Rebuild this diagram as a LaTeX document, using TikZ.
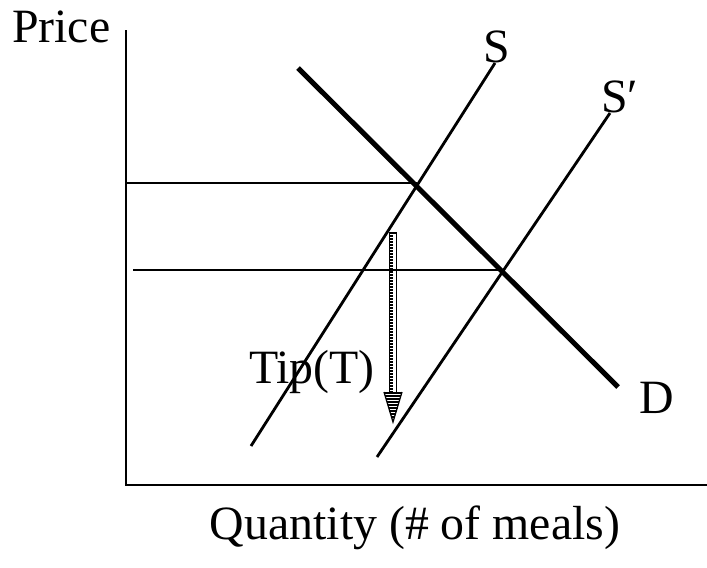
\documentclass[tikz,border=0pt]{standalone}
\usepackage{fontspec}
\setmainfont{Liberation Serif}

\begin{document}
\begin{tikzpicture}[x=0.025cm, y=-0.025cm, font=\fontsize{34}{38}\selectfont,
    axis/.style={line width=1.5pt},
    level/.style={line width=1.3pt},
    supply/.style={line width=2pt},
    demand/.style={line width=3.6pt},
    lbl/.style={inner sep=0pt, outer sep=0pt}]
  % Bounding box in pixel units of the reference (y runs down)
  \useasboundingbox (0,0) rectangle (707,567);

  % ---- AXES ----
  \coordinate (origin) at (126,485);
  \coordinate (ytop) at (126,30);
  \coordinate (xend) at (707,485);
  \draw[axis] (ytop) -- (origin) -- (xend);

  % ---- CURVES ----
  \coordinate (Dtop) at (298,68);
  \coordinate (Dbot) at (618,387);
  \coordinate (Sbot) at (251,446);
  \coordinate (Stop) at (495,63);
  \coordinate (SPbot) at (377,457);
  \coordinate (SPtop) at (610,113);
  \draw[demand] (Dtop) -- (Dbot);
  \draw[supply] (Sbot) -- (Stop);
  \draw[supply] (SPbot) -- (SPtop);

  % Equilibrium price levels
  \coordinate (eqS) at (417,183);
  \coordinate (eqSP) at (504,270);
  \draw[level] (126,183) coordinate (pS) -- (eqS);
  \draw[level] (133,270) coordinate (pSP) -- (eqSP);

  % ---- TIP ARROW (ladder shaft, hatched head) ----
  \coordinate (tipTop) at (393,233);
  \coordinate (tipBase) at (393,392);
  \coordinate (tipEnd) at (393,422);
  \draw[line width=0.9pt] ([xshift=-2.5]tipTop) -- ([xshift=-2.5]tipBase);
  \draw[line width=0.9pt] ([xshift=2.5]tipTop) -- ([xshift=2.5]tipBase);
  \draw[line width=0.9pt] ([xshift=-2.5]tipTop) -- ([xshift=2.5]tipTop);
  \foreach \i in {0,...,52} {
    \pgfmathsetmacro{\yy}{236+3*\i}
    \draw[line width=0.8pt] (389,\yy) -- (393,\yy);
  }
  % head built from shrinking bars
  \foreach \i in {0,...,9} {
    \pgfmathsetmacro{\yy}{393+3*\i}
    \pgfmathsetmacro{\hw}{9*(1-\i/10)}
    \draw[line width=1.2pt] ({393-\hw},\yy) -- ({393+\hw},\yy);
  }
  \draw[line width=0.9pt] (384,392) -- (tipEnd) -- (402,392);

  % ---- LABELS ----
  \node[lbl, anchor=base west] (price) at (12,42) {Price};
  \node[lbl, anchor=base] (labS) at (497,62) {S};
  \node[lbl, anchor=base west] (labSP) at (601,112) {S′};
  \node[lbl, anchor=base west] (labD) at (639,413) {D};
  \node[lbl, anchor=base west] (labTip) at (249,383) {Tip(T)};
  \node[lbl, anchor=base] (qty) at (415,539) {Quantity (\# of meals)};
\end{tikzpicture}
\end{document}
